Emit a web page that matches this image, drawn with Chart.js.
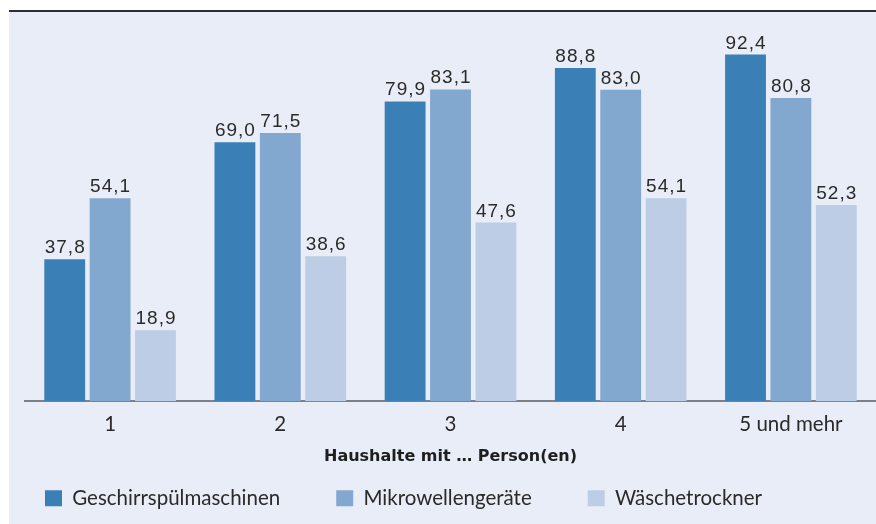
<!DOCTYPE html>
<html><head><meta charset="utf-8">
<script src="https://cdn.jsdelivr.net/npm/chart.js@4"></script>
<style>
html,body{margin:0;padding:0;background:#fff;}
#panel{position:absolute;left:9px;top:10px;width:867px;height:514px;background:#e9edf8;border-top:2px solid #2e2e2e;box-sizing:border-box;}
#wrap{position:absolute;left:0;top:0;width:867px;height:512px;}
</style></head>
<body>
<div id="panel"><div id="wrap"><canvas id="c"></canvas></div></div>
<script>
const categories = ["1", "2", "3", "4", "5 und mehr"];
const seriesNames = ["Geschirrspülmaschinen", "Mikrowellengeräte", "Wäschetrockner"];
const geschirr = [37.8, 69.0, 79.9, 88.8, 92.4];
const mikro = [54.1, 71.5, 83.1, 83.0, 80.8];
const trockner = [18.9, 38.6, 47.6, 54.1, 52.3];
const colors = ["#3a80b6", "#83a8d0", "#bccde5"];
const axisTitle = "Haushalte mit … Person(en)";

const LEGEND_PAD = 56;

const labelPlugin = {
  id: 'valLabels',
  afterDatasetsDraw(chart) {
    const ctx = chart.ctx;
    ctx.save();
    ctx.font = '19px "Liberation Sans", Arial, sans-serif';
    try { ctx.letterSpacing = '1px'; } catch (e) {}
    ctx.fillStyle = '#2a2a2a';
    ctx.textAlign = 'center';
    ctx.textBaseline = 'alphabetic';
    chart.data.datasets.forEach((ds, i) => {
      const meta = chart.getDatasetMeta(i);
      meta.data.forEach((el, j) => {
        ctx.fillText(ds.data[j].toFixed(1).replace('.', ','), el.x + 0.5, el.y - 6);
      });
    });
    ctx.restore();
  }
};

const legendPlace = {
  id: 'legendPlace',
  afterLayout(chart) {
    const l = chart.legend;
    if (!l) return;
    const top = 476 - LEGEND_PAD;
    l.top = top;
    l.bottom = 512;
    l.height = l.bottom - l.top;
    l.left = 36 - LEGEND_PAD;
    l.width = l.right - l.left;
  }
};

new Chart(document.getElementById('c'), {
  type: 'bar',
  data: {
    labels: categories,
    datasets: [
      {label: seriesNames[0], data: geschirr, backgroundColor: colors[0]},
      {label: seriesNames[1], data: mikro, backgroundColor: colors[1]},
      {label: seriesNames[2], data: trockner, backgroundColor: colors[2]}
    ]
  },
  options: {
    responsive: true,
    maintainAspectRatio: false,
    animation: false,
    datasets: {bar: {categoryPercentage: 0.8, barPercentage: 0.9}},
    layout: {padding: {left: 16, right: 0, top: 14, bottom: 0}},
    plugins: {
      tooltip: {enabled: false},
      legend: {
        position: 'bottom',
        align: 'start',
        maxHeight: 38,
        labels: {
          boxWidth: 17, boxHeight: 16,
          padding: LEGEND_PAD,
          color: '#2a2a2a',
          font: {family: 'Lato', size: 20.5}
        }
      }
    },
    scales: {
      y: {display: false, min: 0, max: 100},
      x: {
        grid: {display: false, drawTicks: false},
        border: {display: true, color: '#7d8088', width: 2},
        ticks: {color: '#2a2a2a', font: {family: 'Lato', size: 20.5}, padding: 11},
        title: {display: true, text: axisTitle, color: '#1e1e1e', font: {family: '"DejaVu Sans"', size: 16, weight: 'bold'}, padding: {top: -1, bottom: 20}}
      }
    }
  },
  plugins: [labelPlugin, legendPlace]
});
</script>
</body></html>
